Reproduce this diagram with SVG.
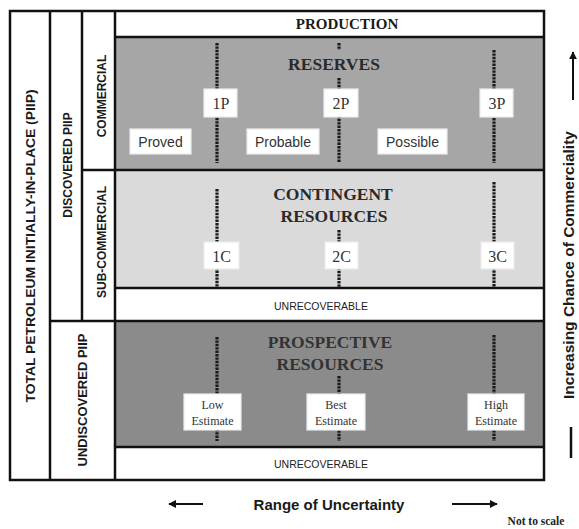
<svg xmlns="http://www.w3.org/2000/svg" width="579" height="529" viewBox="0 0 579 529">
<style>
.frame{fill:none;stroke:#111;stroke-width:2.5}
.ln{stroke:#111;stroke-width:2.5;fill:none}
.dot{stroke:#1a1a1a;stroke-width:3.2;stroke-dasharray:2.4 1;fill:none}
.lbl{fill:#fff;stroke:#ececec;stroke-width:1.2}
.side{font-family:"Liberation Sans",Arial,sans-serif;font-weight:bold;fill:#1a1a1a}
.title{font-family:"Liberation Serif","Times New Roman",serif;font-weight:bold;font-size:17.5px;fill:#2a2a2a;text-anchor:middle}
.num{font-family:"Liberation Serif","Times New Roman",serif;font-size:16px;fill:#333;text-anchor:middle}
.est{font-family:"Liberation Serif","Times New Roman",serif;font-size:12px;fill:#333;text-anchor:middle}
.cat{font-family:"Liberation Sans",Arial,sans-serif;font-size:14px;fill:#333;text-anchor:middle}
.unrec{font-family:"Liberation Sans",Arial,sans-serif;font-size:10.5px;fill:#222;text-anchor:middle}
.arr{stroke:#111;stroke-width:2;fill:none}
</style>
<defs>
<marker id="ah" viewBox="0 0 10 10" refX="9" refY="5" markerWidth="4" markerHeight="4" orient="auto" markerUnits="strokeWidth">
<path d="M0,0 L10,5 L0,10 z" fill="#111"/>
</marker>
</defs>
<rect x="0" y="0" width="579" height="529" fill="#fff"/>

<g id="production">
<rect x="115" y="11" width="429" height="26" fill="#fff"/>
<text x="347" y="29" style="font-family:'Liberation Serif','Times New Roman',serif;font-weight:bold;font-size:15px;fill:#1a1a1a" text-anchor="middle">PRODUCTION</text>
</g>
<g id="reserves">
<rect x="115" y="37" width="429" height="133" fill="#a6a6a6"/>
<text x="334" y="70" class="title">RESERVES</text>
</g>
<g id="contingent">
<rect x="115" y="170" width="429" height="118" fill="#dadada"/>
<text x="333" y="200" class="title">CONTINGENT</text>
<text x="334" y="222" class="title">RESOURCES</text>
</g>
<g id="unrecoverable1">
<rect x="115" y="288" width="429" height="33" fill="#fff"/>
<text x="321" y="310" class="unrec">UNRECOVERABLE</text>
</g>
<g id="prospective">
<rect x="115" y="321" width="429" height="126" fill="#8b8b8b"/>
<text x="330" y="348" class="title" style="fill:#333">PROSPECTIVE</text>
<text x="330" y="370" class="title" style="fill:#333">RESOURCES</text>
</g>
<g id="unrecoverable2">
<rect x="115" y="447" width="429" height="33" fill="#fff"/>
<text x="321" y="468" class="unrec">UNRECOVERABLE</text>
</g>

<g id="frame-lines">
<rect x="10" y="11" width="534" height="469" class="frame"/>
<line x1="50" y1="11" x2="50" y2="480" class="ln"/>
<line x1="82" y1="11" x2="82" y2="321" class="ln"/>
<line x1="115" y1="11" x2="115" y2="480" class="ln"/>
<line x1="115" y1="37" x2="544" y2="37" class="ln"/>
<line x1="82" y1="170" x2="544" y2="170" class="ln"/>
<line x1="115" y1="288" x2="544" y2="288" class="ln"/>
<line x1="50" y1="321" x2="544" y2="321" class="ln"/>
<line x1="115" y1="447" x2="544" y2="447" class="ln"/>
</g>

<g id="total-piip">
<text class="side" font-size="13.5" transform="translate(35,246) rotate(-90)" text-anchor="middle" textLength="313" lengthAdjust="spacingAndGlyphs">TOTAL PETROLEUM INITIALLY-IN-PLACE  (PIIP)</text>
</g>
<g id="discovered-piip">
<text class="side" font-size="12" transform="translate(72,165) rotate(-90)" text-anchor="middle">DISCOVERED PIIP</text>
</g>
<g id="commercial">
<text class="side" font-size="12" transform="translate(106,96) rotate(-90)" text-anchor="middle">COMMERCIAL</text>
</g>
<g id="sub-commercial">
<text class="side" font-size="12" transform="translate(106,242) rotate(-90)" text-anchor="middle">SUB-COMMERCIAL</text>
</g>
<g id="undiscovered-piip">
<text class="side" font-size="13" transform="translate(87,400) rotate(-90)" text-anchor="middle">UNDISCOVERED PIIP</text>
</g>

<g id="connectors">
<line x1="217" y1="43" x2="217" y2="163" class="dot"/>
<line x1="339" y1="43" x2="339" y2="50" class="dot"/>
<line x1="339" y1="78" x2="339" y2="163" class="dot"/>
<line x1="494" y1="50" x2="494" y2="163" class="dot"/>
<line x1="217" y1="189" x2="217" y2="287" class="dot"/>
<line x1="339" y1="230" x2="339" y2="287" class="dot"/>
<line x1="494" y1="182" x2="494" y2="287" class="dot"/>
<line x1="217" y1="337" x2="217" y2="441" class="dot"/>
<line x1="339" y1="376" x2="339" y2="441" class="dot"/>
<line x1="494" y1="335" x2="494" y2="441" class="dot"/>
<line x1="203" y1="504" x2="169" y2="504" class="arr" marker-end="url(#ah)"/>
<line x1="452" y1="504" x2="497" y2="504" class="arr" marker-end="url(#ah)"/>
<line x1="573" y1="100" x2="573" y2="52" class="arr" marker-end="url(#ah)"/>
<line x1="571" y1="427" x2="571" y2="458" style="stroke:#111;stroke-width:2.5"/>
</g>

<g id="label-1p"><rect x="204" y="89" width="33" height="28" class="lbl"/><text x="221" y="109" class="num">1P</text></g>
<g id="label-2p"><rect x="324" y="89" width="34" height="28" class="lbl"/><text x="341" y="109" class="num">2P</text></g>
<g id="label-3p"><rect x="480" y="89" width="33" height="28" class="lbl"/><text x="497" y="109" class="num">3P</text></g>
<g id="label-proved"><rect x="130" y="129" width="61" height="25" class="lbl"/><text x="160.5" y="147" class="cat">Proved</text></g>
<g id="label-probable"><rect x="247" y="129" width="72" height="25" class="lbl"/><text x="283" y="147" class="cat">Probable</text></g>
<g id="label-possible"><rect x="378" y="129" width="69" height="25" class="lbl"/><text x="412.5" y="147" class="cat">Possible</text></g>
<g id="label-1c"><rect x="204" y="242" width="35" height="27" class="lbl"/><text x="221.5" y="262" class="num">1C</text></g>
<g id="label-2c"><rect x="325" y="242" width="33" height="27" class="lbl"/><text x="341.5" y="262" class="num">2C</text></g>
<g id="label-3c"><rect x="481" y="242" width="33" height="27" class="lbl"/><text x="497.5" y="262" class="num">3C</text></g>
<g id="label-low"><rect x="184" y="394" width="57" height="36" class="lbl"/><text x="212.5" y="409" class="est">Low</text><text x="212.5" y="425" class="est">Estimate</text></g>
<g id="label-best"><rect x="307" y="394" width="58" height="36" class="lbl"/><text x="336" y="409" class="est">Best</text><text x="336" y="425" class="est">Estimate</text></g>
<g id="label-high"><rect x="468" y="394" width="56" height="36" class="lbl"/><text x="496" y="409" class="est">High</text><text x="496" y="425" class="est">Estimate</text></g>

<g id="axis-labels">
<text x="329" y="510" class="side" font-size="15" text-anchor="middle">Range of Uncertainty</text>
<text x="536" y="525" style="font-family:'Liberation Serif','Times New Roman',serif;font-weight:bold;font-size:11.5px;fill:#222" text-anchor="middle">Not to scale</text>
<text class="side" font-size="15.5" transform="translate(574,265) rotate(-90)" text-anchor="middle">Increasing Chance of Commerciality</text>
</g>
</svg>
